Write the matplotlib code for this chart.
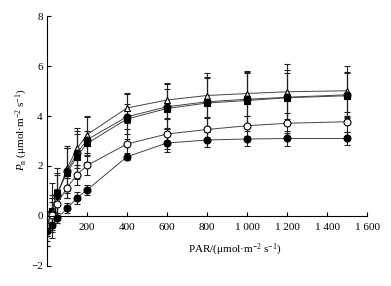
import matplotlib
matplotlib.use("Agg")
import matplotlib.pyplot as plt

par = [0, 25, 50, 100, 150, 200, 400, 600, 800, 1000, 1200, 1500]

tri = [-0.3, 0.1, 0.8, 1.9, 2.7, 3.25, 4.32, 4.64, 4.82, 4.9, 4.97, 5.01]
tri_err = [0.5, 0.6, 0.9, 0.9, 0.8, 0.75, 0.6, 0.7, 0.9, 0.9, 1.1, 1.0]

circ_b = [-0.4, 0.15, 0.85, 1.8, 2.5, 3.05, 3.97, 4.37, 4.57, 4.67, 4.75, 4.85]
circ_b_err = [0.6, 0.7, 0.8, 0.9, 0.9, 0.9, 0.9, 0.9, 1.0, 1.1, 1.1, 0.9]

sq = [-0.5, 0.2, 0.9, 1.72, 2.37, 2.9, 3.88, 4.3, 4.52, 4.62, 4.73, 4.81]
sq_err = [0.7, 1.1, 1.0, 1.0, 0.9, 0.5, 0.6, 0.8, 1.0, 1.1, 1.0, 0.9]

open_c = [-0.4, 0.05, 0.48, 1.12, 1.65, 2.02, 2.88, 3.28, 3.46, 3.61, 3.71, 3.77]
open_c_err = [0.4, 0.5, 0.6, 0.4, 0.4, 0.4, 0.6, 0.6, 0.5, 0.4, 0.4, 0.4]

low = [-0.6, -0.35, -0.1, 0.3, 0.72, 1.04, 2.37, 2.92, 3.04, 3.08, 3.1, 3.1]
low_err = [0.6, 0.3, 0.2, 0.2, 0.25, 0.2, 0.15, 0.35, 0.3, 0.3, 0.3, 0.26]

x_ticks = [200, 400, 600, 800, 1000, 1200, 1400, 1600]
x_labels = ["200", "400", "600", "800", "1 000", "1 200", "1 400", "1 600"]
y_ticks = [-2, 0, 2, 4, 6, 8]
y_labels = ["\u22122", "0", "2", "4", "6", "8"]

plt.rcParams['font.family'] = ['Liberation Serif', 'DejaVu Serif']
plt.rcParams['mathtext.fontset'] = 'custom'
plt.rcParams['mathtext.rm'] = 'Liberation Serif'
plt.rcParams['mathtext.it'] = 'Liberation Serif:italic'

fig = plt.figure(figsize=(3.91, 2.86), dpi=100)
ax = fig.add_axes([0.120, 0.070, 0.819, 0.874])

series = [
    (tri, tri_err, '^', 'white'),
    (circ_b, circ_b_err, 'o', 'black'),
    (sq, sq_err, 's', 'black'),
    (open_c, open_c_err, 'o', 'white'),
    (low, low_err, 'o', 'black'),
]
for y, e, m, fc in series:
    ax.errorbar(par, y, yerr=e, fmt='-', marker=m, mfc=fc, mec='black',
                color='#444444', ecolor='#222222', elinewidth=0.8, capsize=2.5,
                capthick=0.8, markersize=5, lw=0.7, mew=0.8)

ax.set_xlim(0, 1600)
ax.set_ylim(-2, 8)
ax.spines['top'].set_visible(False)
ax.spines['right'].set_visible(False)
ax.spines['bottom'].set_position(('data', 0))
ax.spines['left'].set_linewidth(0.8)
ax.spines['bottom'].set_linewidth(0.8)
ax.set_xticks(x_ticks)
ax.set_xticklabels(x_labels)
ax.set_yticks(y_ticks)
ax.set_yticklabels(y_labels)
ax.tick_params(axis='both', labelsize=8, length=3, width=0.8, direction='in', pad=3)
ax.tick_params(axis='x', pad=5)

fig.text(0.60, 0.125, "PAR/(\u03bcmol\u00b7m$^{\u22122}$ s$^{\u22121}$)", ha='center', va='center', fontsize=8)
fig.text(0.055, 0.545, "$P_{\\mathrm{n}}$ (\u03bcmol\u00b7m$^{\u22122}$ s$^{\u22121}$)", rotation=90,
         ha='center', va='center', fontsize=8)

fig.savefig("out.png", dpi=100)
